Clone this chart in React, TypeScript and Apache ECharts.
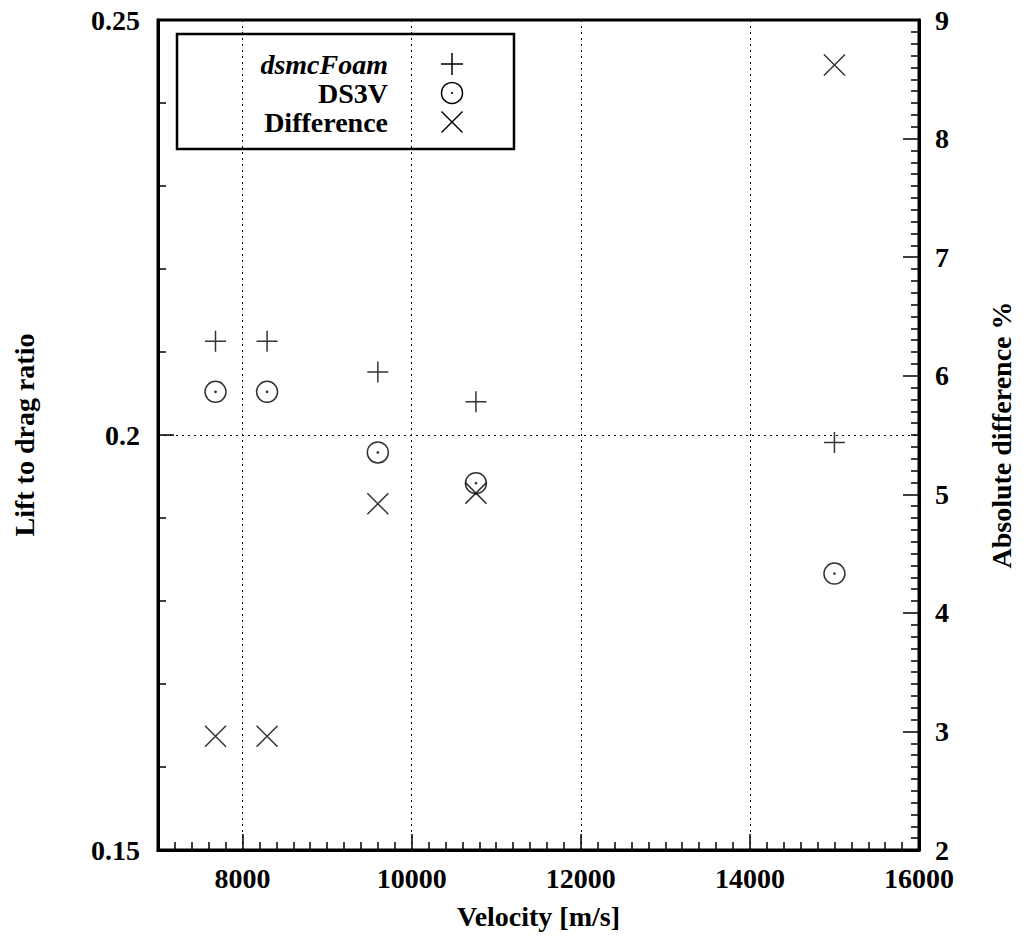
import React, { useEffect, useRef } from "react";
import * as echarts from "echarts";

const velocity = [7680, 8290, 9600, 10760, 15000];
const dsmcFoam = [0.2113, 0.2113, 0.2076, 0.204, 0.1991];
const ds3v = [0.2052, 0.2052, 0.1979, 0.1942, 0.1833];
const difference = [2.96, 2.96, 4.92, 5.01, 8.62];

const legendNames = ["dsmcFoam", "DS3V", "Difference"];
const xName = "Velocity [m/s]";
const yLeftName = "Lift to drag ratio";
const yRightName = "Absolute difference %";

const FONT = "Liberation Serif";
const PLUS = "path://M0,10 L20,10 M10,0 L10,20";
const CROSS = "path://M0,0 L20,20 M0,20 L20,0";
const CIRCLE_DOT =
  "path://M0,10 A10,10 0 1,1 20,10 A10,10 0 1,1 0,10 Z M9.4,10 A0.6,0.6 0 1,1 10.6,10 A0.6,0.6 0 1,1 9.4,10 Z";

export default function App() {
  const ref = useRef<HTMLDivElement>(null);
  useEffect(() => {
    if (!ref.current) return;
    const chart = echarts.init(ref.current, null, { renderer: "svg" });
    const tickLabel = () => ({
      fontFamily: FONT,
      fontWeight: "bold",
      fontSize: 28,
      color: "#000",
    });
    const axisLine = () => ({ show: true, lineStyle: { color: "#000", width: 3 } });
    const gridLine = () => ({ show: true, lineStyle: { color: "#000", width: 1, type: [2, 4] } });
    const majorTick = () => ({ show: true, inside: true, length: 16, lineStyle: { color: "#000", width: 1.5 } });
    const minorTick = (n: number) => ({ show: true, splitNumber: n, length: 8, lineStyle: { color: "#000", width: 1.5 } });
    const mkPts = (ys: number[]) => velocity.map((v, i) => [v, ys[i]]);
    const symStyle = () => ({ color: "transparent", borderColor: "#000", borderWidth: 1.5 });

    const lx = 452;
    const rows = [64, 93, 122];
    chart.setOption({
      animation: false,
      backgroundColor: "#fff",
      grid: {
        left: 158,
        right: 102,
        top: 20,
        bottom: 94,
        show: true,
        borderColor: "#000",
        borderWidth: 3,
        backgroundColor: "transparent",
      },
      xAxis: {
        type: "value",
        min: 7000,
        max: 16000,
        splitNumber: 5,
        position: "bottom",
        axisLine: axisLine(),
        axisTick: majorTick(),
        minorTick: minorTick(10),
        axisLabel: {
          ...tickLabel(),
          margin: 14,
          formatter: (v: number) => (v % 2000 === 0 ? String(v) : ""),
        },
        splitLine: gridLine(),
        name: xName,
        nameLocation: "middle",
        nameGap: 52,
        nameTextStyle: tickLabel(),
      },
      yAxis: [
        {
          type: "value",
          min: 0.15,
          max: 0.25,
          interval: 0.05,
          position: "left",
          axisLine: axisLine(),
          axisTick: majorTick(),
          minorTick: minorTick(5),
          axisLabel: { ...tickLabel(), margin: 18 },
          splitLine: gridLine(),
          name: yLeftName,
          nameLocation: "middle",
          nameRotate: 90,
          nameGap: 120,
          nameTextStyle: tickLabel(),
        },
        {
          type: "value",
          min: 2,
          max: 9,
          interval: 1,
          position: "right",
          axisLine: axisLine(),
          axisTick: majorTick(),
          minorTick: minorTick(10),
          axisLabel: { ...tickLabel(), margin: 16 },
          splitLine: { show: false },
          name: yRightName,
          nameLocation: "middle",
          nameRotate: 90,
          nameGap: 68,
          nameTextStyle: tickLabel(),
        },
      ],
      series: [
        {
          name: legendNames[0],
          type: "scatter",
          yAxisIndex: 0,
          symbol: PLUS,
          symbolSize: 21,
          itemStyle: symStyle(),
          silent: true,
          data: mkPts(dsmcFoam),
        },
        {
          name: legendNames[1],
          type: "scatter",
          yAxisIndex: 0,
          symbol: CIRCLE_DOT,
          symbolSize: 21,
          itemStyle: symStyle(),
          silent: true,
          data: mkPts(ds3v),
        },
        {
          name: legendNames[2],
          type: "scatter",
          yAxisIndex: 1,
          symbol: CROSS,
          symbolSize: 21,
          itemStyle: symStyle(),
          silent: true,
          data: mkPts(difference),
        },
      ],
      graphic: [
        {
          type: "group",
          z: 100,
          silent: true,
          children: [
            {
              type: "rect",
              shape: { x: 177, y: 34, width: 337, height: 115 },
              style: { fill: "#fff", stroke: "#000", lineWidth: 2.5 },
            },
            ...legendNames.map((n, i) => ({
              type: "text",
              x: 388,
              y: rows[i],
              style: {
                text: n,
                fontFamily: FONT,
                fontWeight: "bold",
                fontStyle: i === 0 ? "italic" : "normal",
                fontSize: 28,
                fill: "#000",
                align: "right",
                verticalAlign: "middle",
              },
            })),
            { type: "line", shape: { x1: lx - 11, y1: rows[0], x2: lx + 11, y2: rows[0] }, style: { stroke: "#000", lineWidth: 1.5 } },
            { type: "line", shape: { x1: lx, y1: rows[0] - 11, x2: lx, y2: rows[0] + 11 }, style: { stroke: "#000", lineWidth: 1.5 } },
            { type: "circle", shape: { cx: lx, cy: rows[1], r: 10.5 }, style: { fill: "none", stroke: "#000", lineWidth: 1.5 } },
            { type: "circle", shape: { cx: lx, cy: rows[1], r: 1 }, style: { fill: "#000" } },
            { type: "line", shape: { x1: lx - 10.5, y1: rows[2] - 10.5, x2: lx + 10.5, y2: rows[2] + 10.5 }, style: { stroke: "#000", lineWidth: 1.5 } },
            { type: "line", shape: { x1: lx - 10.5, y1: rows[2] + 10.5, x2: lx + 10.5, y2: rows[2] - 10.5 }, style: { stroke: "#000", lineWidth: 1.5 } },
          ],
        },
      ],
    });
    return () => chart.dispose();
  }, []);
  return (
    <div
      ref={ref}
      style={{ position: "fixed", left: 0, top: 0, width: 1023, height: 944, background: "#fff" }}
    />
  );
}
